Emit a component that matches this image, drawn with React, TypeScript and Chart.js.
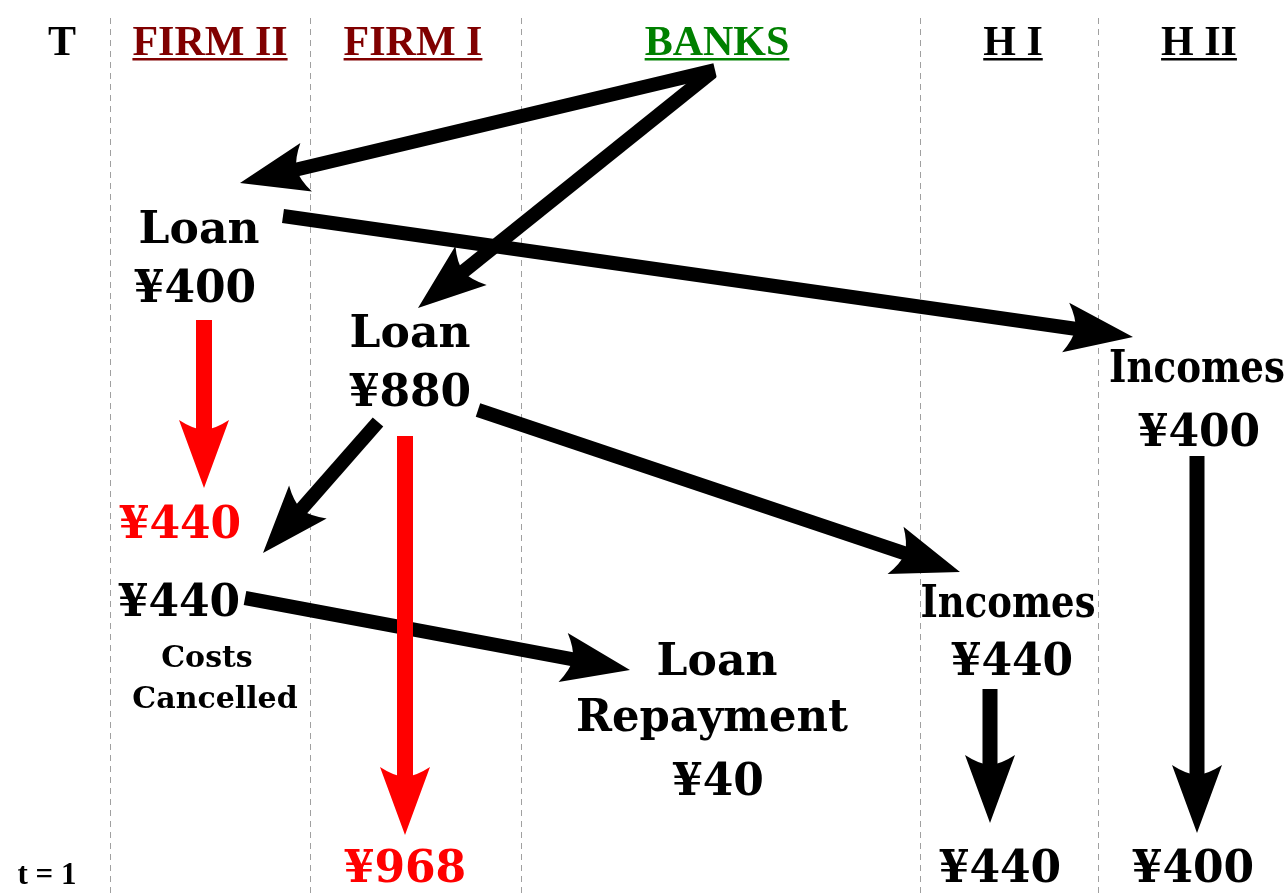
import React, { useEffect, useRef } from 'react';
import { Chart, registerables } from 'chart.js';

Chart.register(...registerables);

const W = 1287;
const H = 895;

// ---- column headers ----
const columns = ['T', 'FIRM II', 'FIRM I', 'BANKS', 'H I', 'H II'];
const columnColors = ['#000000', '#800000', '#800000', '#008000', '#000000', '#000000'];
const columnUnderline = [false, true, true, true, true, true];
const timeLabel = 't = 1';

// ---- amounts (yen) ----
const loans = [400, 880]; // Firm II, Firm I
const firm2Costs = [440, 440]; // cancelled (red), paid (black)
const repayment = [40];
const incomes = [440, 400]; // H I, H II
const finalBalances = [968, 440, 400]; // Firm I, H I, H II

const yen = (v: number) => '\u00A5' + v;

// ---- layout (diagram units = pixels) ----
const columnCenters = [62, 210, 413, 717, 1013, 1199];
const headerBaseline = 55;
const laneBounds = [110, 310, 521, 920, 1098];

type Label = { text: string; x: number; y: number; size: number; color: string; maxWidth?: number; family?: string };

const BIG = 44;
const SMALL = 30;
const RED = '#ff0000';
const BLACK = '#000000';

const labels: Label[] = [
  { text: 'Loan', x: 199, y: 243, size: BIG, color: BLACK },
  { text: yen(loans[0]), x: 195, y: 302, size: BIG, color: BLACK },
  { text: 'Loan', x: 410, y: 347, size: BIG, color: BLACK },
  { text: yen(loans[1]), x: 410, y: 406, size: BIG, color: BLACK },
  { text: yen(firm2Costs[0]), x: 180, y: 538, size: BIG, color: RED },
  { text: yen(firm2Costs[1]), x: 179, y: 616, size: BIG, color: BLACK },
  { text: 'Costs', x: 207, y: 667, size: SMALL, color: BLACK },
  { text: 'Cancelled', x: 215, y: 708, size: SMALL, color: BLACK },
  { text: 'Loan', x: 717, y: 675, size: BIG, color: BLACK },
  { text: 'Repayment', x: 712, y: 731, size: BIG, color: BLACK, maxWidth: 272 },
  { text: yen(repayment[0]), x: 718, y: 795, size: BIG, color: BLACK },
  { text: 'Incomes', x: 1197, y: 382, size: BIG, color: BLACK, maxWidth: 176 },
  { text: yen(incomes[1]), x: 1199, y: 446, size: BIG, color: BLACK },
  { text: 'Incomes', x: 1008, y: 617, size: BIG, color: BLACK, maxWidth: 175 },
  { text: yen(incomes[0]), x: 1012, y: 675, size: BIG, color: BLACK },
  { text: yen(finalBalances[0]), x: 405, y: 882, size: BIG, color: RED },
  { text: yen(finalBalances[1]), x: 1000, y: 882, size: BIG, color: BLACK },
  { text: yen(finalBalances[2]), x: 1193, y: 882, size: BIG, color: BLACK },
  { text: timeLabel, x: 47, y: 884, size: 31, color: BLACK, family: '"Liberation Serif"' },
];

type Arrow = { x1: number; y1: number; x2: number; y2: number; color: string; width: number };

const arrows: Arrow[] = [
  { x1: 715, y1: 70, x2: 240, y2: 183, color: BLACK, width: 14 },
  { x1: 712, y1: 72, x2: 418, y2: 308, color: BLACK, width: 14 },
  { x1: 283, y1: 216, x2: 1133, y2: 337, color: BLACK, width: 14 },
  { x1: 378, y1: 422, x2: 263, y2: 553, color: BLACK, width: 14 },
  { x1: 478, y1: 410, x2: 960, y2: 572, color: BLACK, width: 14 },
  { x1: 245, y1: 598, x2: 630, y2: 670, color: BLACK, width: 14 },
  { x1: 204, y1: 320, x2: 204, y2: 488, color: RED, width: 16 },
  { x1: 405, y1: 436, x2: 405, y2: 835, color: RED, width: 16 },
  { x1: 990, y1: 689, x2: 990, y2: 823, color: BLACK, width: 15 },
  { x1: 1197, y1: 456, x2: 1197, y2: 833, color: BLACK, width: 15 },
];

function drawArrow(ctx: CanvasRenderingContext2D, x1: number, y1: number, x2: number, y2: number, color: string, w: number) {
  const dx = x2 - x1;
  const dy = y2 - y1;
  const len = Math.hypot(dx, dy);
  const ux = dx / len;
  const uy = dy / len;
  const nx = -uy;
  const ny = ux;
  const L = 68;
  const N = 58;
  const HW = 25;
  ctx.save();
  ctx.fillStyle = color;
  ctx.strokeStyle = color;
  ctx.lineWidth = w;
  ctx.lineCap = 'butt';
  ctx.beginPath();
  ctx.moveTo(x1, y1);
  ctx.lineTo(x2 - ux * (N - 3), y2 - uy * (N - 3));
  ctx.stroke();
  const bx = x2 - ux * L;
  const by = y2 - uy * L;
  const mx = x2 - ux * N;
  const my = y2 - uy * N;
  const cx = x2 - ux * (N + 1);
  const cy = y2 - uy * (N + 1);
  ctx.beginPath();
  ctx.moveTo(x2, y2);
  ctx.lineTo(bx + nx * HW, by + ny * HW);
  ctx.quadraticCurveTo(cx + nx * HW * 0.45, cy + ny * HW * 0.45, mx, my);
  ctx.quadraticCurveTo(cx - nx * HW * 0.45, cy - ny * HW * 0.45, bx - nx * HW, by - ny * HW);
  ctx.closePath();
  ctx.fill();
  ctx.restore();
}

const diagramPlugin = {
  id: 'diagram',
  afterDraw(chart: any) {
    const ctx: CanvasRenderingContext2D = chart.ctx;
    const xs = chart.scales.x;
    const ys = chart.scales.y;
    const px = (v: number) => xs.getPixelForValue(v);
    const py = (v: number) => ys.getPixelForValue(v);

    ctx.save();
    // headers
    ctx.textAlign = 'center';
    ctx.textBaseline = 'alphabetic';
    ctx.font = 'bold 42px "Liberation Serif", "Times New Roman", serif';
    columns.forEach((c, i) => {
      const x = px(columnCenters[i]);
      const y = py(headerBaseline);
      ctx.fillStyle = columnColors[i];
      ctx.fillText(c, x, y);
      if (columnUnderline[i]) {
        const w = ctx.measureText(c).width;
        ctx.fillRect(x - w / 2, y + 3, w, 2.5);
      }
    });

    // arrows
    arrows.forEach((a) => drawArrow(ctx, px(a.x1), py(a.y1), px(a.x2), py(a.y2), a.color, a.width));

    // labels
    labels.forEach((l) => {
      ctx.font = `bold ${l.size}px ${l.family || '"DejaVu Serif", serif'}`;
      ctx.fillStyle = l.color;
      if (l.maxWidth) ctx.fillText(l.text, px(l.x), py(l.y), l.maxWidth);
      else ctx.fillText(l.text, px(l.x), py(l.y));
    });
    ctx.restore();
  },
};

export default function App() {
  const ref = useRef<HTMLCanvasElement>(null);
  useEffect(() => {
    document.body.style.margin = '0';
    const chart = new Chart(ref.current as HTMLCanvasElement, {
      type: 'scatter',
      data: { datasets: [{ data: [], pointRadius: 0 }] },
      options: {
        animation: false,
        responsive: false,
        events: [],
        layout: { padding: { top: 18, left: 0, right: 0, bottom: 0 } },
        plugins: { legend: { display: false }, tooltip: { enabled: false } },
        scales: {
          x: {
            type: 'linear',
            min: 0,
            max: W,
            position: 'bottom',
            afterBuildTicks: (s: any) => {
              s.ticks = laneBounds.map((v) => ({ value: v }));
            },
            ticks: { display: false },
            grid: { color: '#a0a0a0', lineWidth: 1, drawTicks: false },
            border: { display: false, dash: [6, 5] },
          },
          y: { type: 'linear', min: 18, max: H, reverse: true, display: false },
        },
      },
      plugins: [diagramPlugin],
    } as any);
    const fonts = (document as any).fonts;
    if (fonts && fonts.load) {
      Promise.all([
        fonts.load('bold 44px "DejaVu Serif"'),
        fonts.load('bold 42px "Liberation Serif"'),
      ])
        .then(() => chart.draw())
        .catch(() => {});
    }
    return () => chart.destroy();
  }, []);
  return <canvas ref={ref} width={W} height={H} style={{ display: 'block' }} />;
}
